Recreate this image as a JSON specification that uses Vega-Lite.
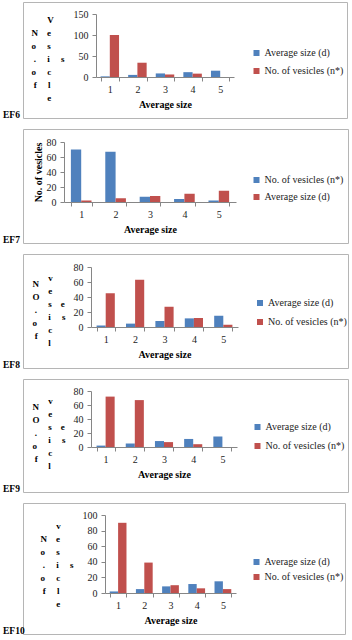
{
  "$schema": "https://vega.github.io/schema/vega-lite/v6.json",
  "padding": {"left": 2, "top": 1, "right": 0, "bottom": 0},
  "background": "#ffffff",
  "bounds": "flush",
  "spacing": 11,
  "resolve": {"scale": {"color": "independent", "xOffset": "independent", "x": "independent", "y": "independent"}, "legend": {"color": "independent"}},
  "config": {
    "font": "Liberation Serif",
    "view": {"stroke": "#B5B5B5", "strokeWidth": 1},
    "axis": {"labelFont": "Liberation Serif", "labelFontSize": 10, "labelColor": "#222222", "titleFont": "Liberation Serif", "titleFontSize": 10, "titleFontWeight": "bold", "titleColor": "#000000", "domainColor": "#868686", "tickColor": "#868686", "tickSize": 4, "grid": false, "labelPadding": 3},
    "legend": {"labelFont": "Liberation Serif", "labelFontSize": 10, "labelColor": "#222222", "symbolType": "square", "symbolSize": 36, "symbolStrokeWidth": 0, "labelOffset": 3},
    "title": {"font": "Liberation Serif", "fontSize": 9.5, "fontWeight": "bold", "color": "#000000"}
  },
  "vconcat": [
    {
      "width": 324, "height": 116,
      "title": {"text": "EF6", "orient": "bottom", "anchor": "start", "frame": "group", "dx": -20, "offset": 0, "baseline": "alphabetic"},
      "data": {"values": [
        {"category": "1", "series": "Average size (d)", "value": 1.5},
        {"category": "2", "series": "Average size (d)", "value": 5},
        {"category": "3", "series": "Average size (d)", "value": 8.5},
        {"category": "4", "series": "Average size (d)", "value": 11.5},
        {"category": "5", "series": "Average size (d)", "value": 15},
        {"category": "1", "series": "No. of vesicles (n*)", "value": 100},
        {"category": "2", "series": "No. of vesicles (n*)", "value": 34},
        {"category": "3", "series": "No. of vesicles (n*)", "value": 6},
        {"category": "4", "series": "No. of vesicles (n*)", "value": 8},
        {"category": "5", "series": "No. of vesicles (n*)", "value": 0}
      ]},
      "mark": {"type": "bar"},
      "encoding": {
        "x": {"field": "category", "type": "ordinal", "scale": {"range": [73, 211], "paddingInner": 0.33, "paddingOuter": 0.165},
              "axis": {"title": "Average size", "labelAngle": 0, "offset": -41, "tickBand": "extent", "titlePadding": 5}},
        "xOffset": {"field": "series", "scale": {"domain": ["Average size (d)", "No. of vesicles (n*)"]}},
        "y": {"field": "value", "type": "quantitative", "scale": {"domain": [0, 150], "range": [75, 12], "nice": false},
              "axis": {"values": [0, 50, 100, 150], "offset": -73, "labelPadding": 4,
                       "title": ["\u200b\u00a0\u00a0\u00a0\u00a0\u00a0\u00a0\u00a0V", "N\u00a0\u00a0\u00a0\u00a0e", "o\u00a0\u00a0\u00a0\u00a0\u00a0s", "\u200b\u00a0.\u00a0\u00a0\u00a0\u00a0\u00a0i\u00a0\u00a0\u00a0\u00a0\u00a0s", "o\u00a0\u00a0\u00a0\u00a0\u00a0c", "\u200b\u00a0f\u00a0\u00a0\u00a0\u00a0\u00a0l", "\u200b\u00a0\u00a0\u00a0\u00a0\u00a0\u00a0\u00a0e"],
                       "titleAngle": 0, "titleAlign": "left", "titleBaseline": "middle", "titleFontSize": 9, "titleLineHeight": 13, "titleX": -65, "titleY": 17}},
        "color": {"field": "series", "type": "nominal", "scale": {"domain": ["Average size (d)", "No. of vesicles (n*)"], "range": ["#4F81BD", "#C0504D"]},
                  "legend": {"title": null, "orient": "none", "legendX": 228.5, "legendY": 46, "rowPadding": 8}}
      }
    },
    {
      "width": 325, "height": 114,
      "title": {"text": "EF7", "orient": "bottom", "anchor": "start", "frame": "group", "dx": -20, "offset": 0, "baseline": "alphabetic"},
      "data": {"values": [
        {"category": "1", "series": "No. of vesicles (n*)", "value": 70},
        {"category": "2", "series": "No. of vesicles (n*)", "value": 67},
        {"category": "3", "series": "No. of vesicles (n*)", "value": 7},
        {"category": "4", "series": "No. of vesicles (n*)", "value": 4},
        {"category": "5", "series": "No. of vesicles (n*)", "value": 2},
        {"category": "1", "series": "Average size (d)", "value": 2},
        {"category": "2", "series": "Average size (d)", "value": 5},
        {"category": "3", "series": "Average size (d)", "value": 8},
        {"category": "4", "series": "Average size (d)", "value": 11},
        {"category": "5", "series": "Average size (d)", "value": 15}
      ]},
      "mark": {"type": "bar"},
      "encoding": {
        "x": {"field": "category", "type": "ordinal", "scale": {"range": [41, 213], "paddingInner": 0.4, "paddingOuter": 0.2},
              "axis": {"title": "Average size", "labelAngle": 0, "offset": -41, "tickBand": "extent", "titlePadding": 5}},
        "xOffset": {"field": "series", "scale": {"domain": ["No. of vesicles (n*)", "Average size (d)"]}},
        "y": {"field": "value", "type": "quantitative", "scale": {"domain": [0, 80], "range": [73, 13], "nice": false},
              "axis": {"values": [0, 20, 40, 60, 80], "offset": -41, "labelPadding": 4, "title": "No. of vesicles", "titlePadding": 3}},
        "color": {"field": "series", "type": "nominal", "scale": {"domain": ["No. of vesicles (n*)", "Average size (d)"], "range": ["#4F81BD", "#C0504D"]},
                  "legend": {"title": null, "orient": "none", "legendX": 228.5, "legendY": 46, "rowPadding": 7}}
      }
    },
    {
      "width": 325, "height": 114,
      "title": {"text": "EF8", "orient": "bottom", "anchor": "start", "frame": "group", "dx": -20, "offset": 0, "baseline": "alphabetic"},
      "data": {"values": [
        {"category": "1", "series": "Average size (d)", "value": 2},
        {"category": "2", "series": "Average size (d)", "value": 4.5},
        {"category": "3", "series": "Average size (d)", "value": 8},
        {"category": "4", "series": "Average size (d)", "value": 11.5},
        {"category": "5", "series": "Average size (d)", "value": 15},
        {"category": "1", "series": "No. of vesicles (n*)", "value": 45},
        {"category": "2", "series": "No. of vesicles (n*)", "value": 63},
        {"category": "3", "series": "No. of vesicles (n*)", "value": 27},
        {"category": "4", "series": "No. of vesicles (n*)", "value": 12},
        {"category": "5", "series": "No. of vesicles (n*)", "value": 3}
      ]},
      "mark": {"type": "bar"},
      "encoding": {
        "x": {"field": "category", "type": "ordinal", "scale": {"range": [68, 215], "paddingInner": 0.38, "paddingOuter": 0.19},
              "axis": {"title": "Average size", "labelAngle": 0, "offset": -41, "tickBand": "extent", "titlePadding": 5}},
        "xOffset": {"field": "series", "scale": {"domain": ["Average size (d)", "No. of vesicles (n*)"]}},
        "y": {"field": "value", "type": "quantitative", "scale": {"domain": [0, 80], "range": [73, 13], "nice": false},
              "axis": {"values": [0, 20, 40, 60, 80], "offset": -68, "labelPadding": 4,
                       "title": ["\u200b\u00a0\u00a0\u00a0\u00a0\u00a0\u00a0\u00a0v", "N", "\u200b\u00a0\u00a0\u00a0\u00a0\u00a0\u00a0\u00a0e", "O", "\u200b\u00a0\u00a0\u00a0\u00a0\u00a0\u00a0\u00a0s\u00a0\u00a0\u00a0\u00a0e", "\u200b\u00a0.", "\u200b\u00a0\u00a0\u00a0\u00a0\u00a0\u00a0\u00a0i\u00a0\u00a0\u00a0\u00a0\u00a0s", "o", "\u200b\u00a0\u00a0\u00a0\u00a0\u00a0\u00a0\u00a0c", "\u200b\u00a0f", "\u200b\u00a0\u00a0\u00a0\u00a0\u00a0\u00a0\u00a0l"],
                       "titleAngle": 0, "titleAlign": "left", "titleBaseline": "middle", "titleFontSize": 9, "titleLineHeight": 6.5, "titleX": -59, "titleY": 23}},
        "color": {"field": "series", "type": "nominal", "scale": {"domain": ["Average size (d)", "No. of vesicles (n*)"], "range": ["#4F81BD", "#C0504D"]},
                  "legend": {"title": null, "orient": "none", "legendX": 232, "legendY": 44, "rowPadding": 9}}
      }
    },
    {
      "width": 325, "height": 113,
      "title": {"text": "EF9", "orient": "bottom", "anchor": "start", "frame": "group", "dx": -20, "offset": 0, "baseline": "alphabetic"},
      "data": {"values": [
        {"category": "1", "series": "Average size (d)", "value": 2},
        {"category": "2", "series": "Average size (d)", "value": 5},
        {"category": "3", "series": "Average size (d)", "value": 8.5},
        {"category": "4", "series": "Average size (d)", "value": 11.5},
        {"category": "5", "series": "Average size (d)", "value": 15},
        {"category": "1", "series": "No. of vesicles (n*)", "value": 72},
        {"category": "2", "series": "No. of vesicles (n*)", "value": 67},
        {"category": "3", "series": "No. of vesicles (n*)", "value": 7},
        {"category": "4", "series": "No. of vesicles (n*)", "value": 4},
        {"category": "5", "series": "No. of vesicles (n*)", "value": 0}
      ]},
      "mark": {"type": "bar"},
      "encoding": {
        "x": {"field": "category", "type": "ordinal", "scale": {"range": [68, 214], "paddingInner": 0.38, "paddingOuter": 0.19},
              "axis": {"title": "Average size", "labelAngle": 0, "offset": -45, "tickBand": "extent", "titlePadding": 5}},
        "xOffset": {"field": "series", "scale": {"domain": ["Average size (d)", "No. of vesicles (n*)"]}},
        "y": {"field": "value", "type": "quantitative", "scale": {"domain": [0, 80], "range": [68, 12], "nice": false},
              "axis": {"values": [0, 20, 40, 60, 80], "offset": -68, "labelPadding": 4,
                       "title": ["\u200b\u00a0\u00a0\u00a0\u00a0\u00a0\u00a0\u00a0v", "N", "\u200b\u00a0\u00a0\u00a0\u00a0\u00a0\u00a0\u00a0e", "O", "\u200b\u00a0\u00a0\u00a0\u00a0\u00a0\u00a0\u00a0s\u00a0\u00a0\u00a0\u00a0e", "\u200b\u00a0.", "\u200b\u00a0\u00a0\u00a0\u00a0\u00a0\u00a0\u00a0i\u00a0\u00a0\u00a0\u00a0\u00a0s", "o", "\u200b\u00a0\u00a0\u00a0\u00a0\u00a0\u00a0\u00a0c", "\u200b\u00a0f", "\u200b\u00a0\u00a0\u00a0\u00a0\u00a0\u00a0\u00a0l"],
                       "titleAngle": 0, "titleAlign": "left", "titleBaseline": "middle", "titleFontSize": 9, "titleLineHeight": 6.5, "titleX": -59, "titleY": 21}},
        "color": {"field": "series", "type": "nominal", "scale": {"domain": ["Average size (d)", "No. of vesicles (n*)"], "range": ["#4F81BD", "#C0504D"]},
                  "legend": {"title": null, "orient": "none", "legendX": 229.5, "legendY": 43, "rowPadding": 9}}
      }
    },
    {
      "width": 322, "height": 131,
      "title": {"text": "EF10", "orient": "bottom", "anchor": "start", "frame": "group", "dx": -20, "offset": 0, "baseline": "alphabetic"},
      "data": {"values": [
        {"category": "1", "series": "Average size (d)", "value": 2},
        {"category": "2", "series": "Average size (d)", "value": 5},
        {"category": "3", "series": "Average size (d)", "value": 8.5},
        {"category": "4", "series": "Average size (d)", "value": 11.5},
        {"category": "5", "series": "Average size (d)", "value": 15},
        {"category": "1", "series": "No. of vesicles (n*)", "value": 90},
        {"category": "2", "series": "No. of vesicles (n*)", "value": 39},
        {"category": "3", "series": "No. of vesicles (n*)", "value": 10},
        {"category": "4", "series": "No. of vesicles (n*)", "value": 6},
        {"category": "5", "series": "No. of vesicles (n*)", "value": 5}
      ]},
      "mark": {"type": "bar"},
      "encoding": {
        "x": {"field": "category", "type": "ordinal", "scale": {"range": [82, 213], "paddingInner": 0.36, "paddingOuter": 0.18},
              "axis": {"title": "Average size", "labelAngle": 0, "offset": -41, "tickBand": "extent", "titlePadding": 5}},
        "xOffset": {"field": "series", "scale": {"domain": ["Average size (d)", "No. of vesicles (n*)"]}},
        "y": {"field": "value", "type": "quantitative", "scale": {"domain": [0, 100], "range": [90, 12], "nice": false},
              "axis": {"values": [0, 20, 40, 60, 80, 100], "offset": -82, "labelPadding": 4,
                       "title": ["\u200b\u00a0\u00a0\u00a0\u00a0\u00a0\u00a0\u00a0v", "N\u00a0\u00a0\u00a0\u00a0e", "o\u00a0\u00a0\u00a0\u00a0\u00a0s", "\u200b\u00a0.\u00a0\u00a0\u00a0\u00a0\u00a0i\u00a0\u00a0\u00a0\u00a0\u00a0s", "o\u00a0\u00a0\u00a0\u00a0\u00a0c", "\u200b\u00a0f\u00a0\u00a0\u00a0\u00a0\u00a0l", "\u200b\u00a0\u00a0\u00a0\u00a0\u00a0\u00a0\u00a0e"],
                       "titleAngle": 0, "titleAlign": "left", "titleBaseline": "middle", "titleFontSize": 9, "titleLineHeight": 13, "titleX": -65, "titleY": 22}},
        "color": {"field": "series", "type": "nominal", "scale": {"domain": ["Average size (d)", "No. of vesicles (n*)"], "range": ["#4F81BD", "#C0504D"]},
                  "legend": {"title": null, "orient": "none", "legendX": 228.5, "legendY": 54, "rowPadding": 5}}
      }
    }
  ]
}
